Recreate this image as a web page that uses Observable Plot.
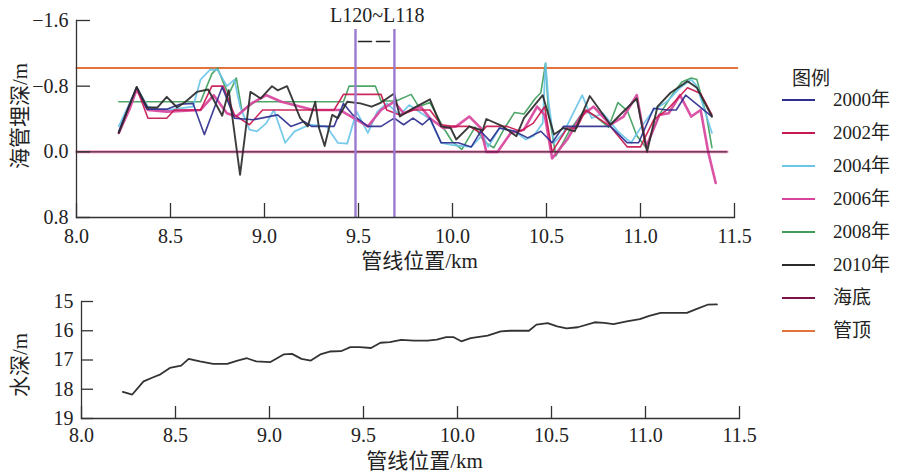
<!DOCTYPE html>
<html><head><meta charset="utf-8">
<script src="https://cdn.jsdelivr.net/npm/d3@7"></script>
<script src="https://cdn.jsdelivr.net/npm/@observablehq/plot@0.6"></script>
<style>
body{margin:0;background:#fff;}
#wrap{position:relative;width:900px;height:476px;overflow:hidden;font-family:"Liberation Serif","Noto Sans CJK SC",serif;}
#top{position:absolute;left:0;top:0;}
#bot{position:absolute;left:0;top:275px;}
.lg{position:absolute;font-size:19px;color:#222;white-space:nowrap;line-height:1;}
.sw{position:absolute;height:0;}
</style></head><body><div id="wrap"><div id="top"></div><div id="bot"></div></div>
<script>
// ---- data ----
const xTicks = [8.0, 8.5, 9.0, 9.5, 10.0, 10.5, 11.0, 11.5];
const yTicksTop = [-1.6, -0.8, 0.0, 0.8];
const yTicksBot = [15, 16, 17, 18, 19];
const legendTitle = "图例";
const legendNames = ["2000年", "2002年", "2004年", "2006年", "2008年", "2010年", "海底", "管顶"];
const legendColors = ["#2e2e8f", "#c8184f", "#6cc5e9", "#d8449c", "#3f9e5c", "#2b2b2b", "#7a1446", "#e2733a"];

const s2000 = [[8.225,-0.25],[8.32,-0.79],[8.375,-0.52],[8.48,-0.52],[8.55,-0.58],[8.62,-0.59],[8.68,-0.21],[8.775,-0.79],[8.84,-0.41],[8.94,-0.39],[9.07,-0.45],[9.14,-0.31],[9.21,-0.37],[9.25,-0.31],[9.37,-0.31],[9.42,-0.59],[9.47,-0.45],[9.55,-0.31],[9.62,-0.31],[9.69,-0.41],[9.74,-0.33],[9.79,-0.41],[9.84,-0.33],[9.88,-0.41],[9.94,-0.11],[10.03,-0.11],[10.1,-0.06],[10.15,-0.25],[10.2,-0.13],[10.25,-0.29],[10.33,-0.25],[10.4,-0.17],[10.47,-0.25],[10.53,-0.11],[10.59,-0.31],[10.84,-0.31],[10.93,-0.11],[10.99,-0.11],[11.07,-0.53],[11.14,-0.51],[11.19,-0.51],[11.24,-0.69],[11.38,-0.43]];
const s2002 = [[8.225,-0.23],[8.27,-0.51],[8.32,-0.78],[8.38,-0.41],[8.48,-0.41],[8.52,-0.51],[8.66,-0.51],[8.72,-0.80],[8.78,-0.80],[8.84,-0.45],[8.92,-0.33],[8.99,-0.51],[9.37,-0.51],[9.42,-0.70],[9.62,-0.70],[9.65,-0.51],[9.72,-0.45],[9.79,-0.51],[9.88,-0.51],[9.94,-0.33],[10.0,-0.31],[10.09,-0.31],[10.15,-0.23],[10.18,-0.31],[10.29,-0.31],[10.36,-0.25],[10.43,-0.35],[10.49,-0.55],[10.53,0.0],[10.61,-0.29],[10.66,-0.29],[10.71,-0.51],[10.84,-0.31],[10.93,-0.06],[11.0,-0.06],[11.07,-0.39],[11.14,-0.51],[11.25,-0.78],[11.32,-0.71],[11.38,-0.45]];
const s2004 = [[8.225,-0.31],[8.32,-0.78],[8.38,-0.55],[8.45,-0.50],[8.55,-0.53],[8.62,-0.55],[8.66,-0.88],[8.71,-1.0],[8.75,-1.0],[8.80,-0.80],[8.84,-0.88],[8.87,-0.55],[8.92,-0.27],[8.96,-0.25],[9.01,-0.35],[9.05,-0.51],[9.11,-0.11],[9.16,-0.25],[9.24,-0.33],[9.33,-0.31],[9.39,-0.11],[9.44,-0.10],[9.49,-0.49],[9.55,-0.23],[9.6,-0.49],[9.65,-0.59],[9.72,-0.45],[9.77,-0.57],[9.88,-0.40],[9.94,-0.11],[10.01,-0.08],[10.1,-0.06],[10.16,-0.21],[10.19,-0.06],[10.25,-0.29],[10.33,-0.25],[10.39,-0.15],[10.43,-0.19],[10.48,-0.35],[10.495,-1.08],[10.51,-0.63],[10.54,-0.11],[10.59,-0.23],[10.69,-0.69],[10.74,-0.41],[10.80,-0.47],[10.88,-0.25],[10.95,-0.11],[11.0,-0.29],[11.07,-0.51],[11.14,-0.61],[11.21,-0.78],[11.27,-0.88],[11.30,-0.80],[11.38,-0.23]];
const s2006 = [[8.225,-0.23],[8.28,-0.51],[8.32,-0.76],[8.38,-0.51],[8.48,-0.49],[8.66,-0.51],[8.73,-0.69],[8.80,-0.47],[8.85,-0.43],[8.93,-0.59],[9.01,-0.69],[9.09,-0.61],[9.26,-0.51],[9.40,-0.51],[9.475,-0.41],[9.55,-0.31],[9.62,-0.51],[9.69,-0.61],[9.74,-0.47],[9.83,-0.55],[9.88,-0.41],[9.95,-0.29],[10.02,-0.31],[10.09,-0.43],[10.15,-0.29],[10.18,0.0],[10.24,0.0],[10.31,-0.23],[10.38,-0.27],[10.45,-0.55],[10.49,-0.45],[10.53,0.08],[10.61,-0.15],[10.68,-0.43],[10.75,-0.55],[10.84,-0.33],[10.91,-0.43],[10.98,-0.69],[11.03,-0.06],[11.10,-0.45],[11.15,-0.47],[11.21,-0.69],[11.27,-0.43],[11.32,-0.51],[11.36,0.0],[11.40,0.38]];
const s2008 = [[8.225,-0.61],[8.66,-0.61],[8.72,-0.95],[8.75,-1.02],[8.78,-0.85],[8.81,-0.70],[8.85,-0.90],[8.88,-0.50],[8.95,-0.61],[9.42,-0.61],[9.45,-0.80],[9.59,-0.80],[9.62,-0.62],[9.70,-0.62],[9.78,-0.70],[9.82,-0.55],[9.88,-0.60],[9.95,-0.30],[10.0,-0.12],[10.05,-0.03],[10.12,-0.30],[10.17,-0.12],[10.22,-0.05],[10.28,-0.30],[10.33,-0.48],[10.38,-0.46],[10.44,-0.65],[10.47,-0.72],[10.495,-1.08],[10.51,-0.50],[10.55,0.05],[10.62,-0.25],[10.70,-0.50],[10.75,-0.45],[10.83,-0.30],[10.88,-0.60],[10.93,-0.50],[10.98,-0.20],[11.03,-0.05],[11.10,-0.45],[11.17,-0.70],[11.22,-0.85],[11.27,-0.90],[11.30,-0.88],[11.35,-0.45],[11.38,-0.05]];
const s2010 = [[8.225,-0.23],[8.32,-0.79],[8.376,-0.54],[8.43,-0.54],[8.48,-0.67],[8.535,-0.54],[8.58,-0.61],[8.64,-0.73],[8.70,-0.76],[8.775,-0.44],[8.81,-0.75],[8.87,0.28],[8.925,-0.73],[8.98,-0.65],[9.04,-0.80],[9.07,-0.75],[9.12,-0.80],[9.19,-0.41],[9.23,-0.31],[9.27,-0.61],[9.29,-0.29],[9.32,-0.07],[9.36,-0.45],[9.39,-0.41],[9.44,-0.61],[9.51,-0.59],[9.57,-0.55],[9.62,-0.60],[9.69,-0.71],[9.72,-0.43],[9.79,-0.53],[9.88,-0.64],[9.94,-0.31],[9.99,-0.29],[10.02,-0.15],[10.09,-0.31],[10.16,-0.26],[10.18,-0.40],[10.26,-0.32],[10.34,-0.19],[10.38,-0.41],[10.48,-0.69],[10.54,-0.21],[10.59,-0.29],[10.65,-0.25],[10.73,-0.68],[10.84,-0.33],[10.90,-0.47],[10.98,-0.65],[11.035,0.0],[11.09,-0.55],[11.16,-0.72],[11.25,-0.86],[11.30,-0.78],[11.38,-0.43]];
const seabed = [[8.0, 0.0], [11.46, 0.0]];
const pipeTop = [[8.0, -1.02], [11.515, -1.02]];
const markerX = [9.484, 9.691];
const markerSpan = [-1.49, 0.8];
const markerLabel = "L120~L118";
const markerLabelPos = [9.60, -1.665];
const markerArrow = [[9.50, -1.345], [9.688, -1.345]];

const waterDepth = [[8.22,18.09],[8.27,18.18],[8.33,17.73],[8.385,17.58],[8.42,17.49],[8.47,17.27],[8.53,17.19],[8.57,16.96],[8.63,17.05],[8.70,17.13],[8.775,17.13],[8.83,17.02],[8.88,16.94],[8.93,17.05],[9.005,17.07],[9.075,16.81],[9.12,16.79],[9.17,16.96],[9.22,17.02],[9.27,16.81],[9.32,16.71],[9.38,16.70],[9.43,16.56],[9.48,16.56],[9.54,16.59],[9.59,16.41],[9.64,16.39],[9.70,16.31],[9.77,16.34],[9.84,16.34],[9.89,16.30],[9.94,16.22],[9.98,16.22],[10.02,16.36],[10.07,16.25],[10.16,16.17],[10.23,16.02],[10.28,16.00],[10.38,16.00],[10.42,15.79],[10.48,15.74],[10.53,15.85],[10.58,15.92],[10.64,15.88],[10.73,15.71],[10.78,15.73],[10.83,15.77],[10.90,15.68],[10.97,15.60],[11.02,15.49],[11.08,15.39],[11.22,15.39],[11.27,15.26],[11.33,15.11],[11.38,15.10]];

const seriesList = [s2000, s2002, s2004, s2006, s2008, s2010];
const drawOrder = [4, 2, 3, 1, 0, 5];
const widths = [1.6, 1.6, 1.8, 2.6, 1.6, 1.9];

const FONT = '"Liberation Serif","Noto Sans CJK SC",serif';
const fmt = d => (d < 0 ? "\u2212" : "") + Math.abs(d).toFixed(1);
const axisColor = "#333";

const lineMarks = drawOrder.map(i => Plot.line(seriesList[i], {x: d => d[0], y: d => d[1], stroke: legendColors[i], strokeWidth: widths[i], strokeOpacity: 0.92, strokeLinejoin: "round"}));

const topPlot = Plot.plot({
  width: 760, height: 275, marginLeft: 76, marginRight: 26, marginTop: 20, marginBottom: 58,
  x: {domain: [8, 11.5]},
  y: {domain: [-1.6, 0.8], reverse: true},
  style: {fontFamily: FONT, fontSize: "20px", color: "#222", background: "transparent", overflow: "visible"},
  marks: [
    Plot.line(pipeTop, {x: d => d[0], y: d => d[1], stroke: legendColors[7], strokeWidth: 2}),
    Plot.line(seabed, {x: d => d[0], y: d => d[1], stroke: "#f7b8d4", strokeWidth: 3.5}),
    ...lineMarks,
    Plot.line(seabed, {x: d => d[0], y: d => d[1], stroke: "#4a1436", strokeWidth: 1.4}),
    Plot.ruleX(markerX, {y1: markerSpan[0], y2: markerSpan[1], stroke: "#9a7ad0", strokeWidth: 2.4}),
    Plot.line(markerArrow, {x: d => d[0], y: d => d[1], stroke: "#222", strokeWidth: 1.6, strokeDasharray: "13,5"}),
    Plot.text([markerLabel], {x: markerLabelPos[0], y: markerLabelPos[1], fontSize: 20, fill: "#222"}),
    Plot.frame({anchor: "left", stroke: axisColor, strokeWidth: 1.3}),
    Plot.frame({anchor: "bottom", stroke: axisColor, strokeWidth: 1.3}),
    Plot.ruleX(xTicks, {insetTop: 197 - 14, stroke: axisColor, strokeWidth: 1.3}),
    Plot.ruleY(yTicksTop, {insetRight: 658 - 14, stroke: axisColor, strokeWidth: 1.3}),
    Plot.axisX({ticks: xTicks, tickSize: 0, tickPadding: 11, tickFormat: d => d.toFixed(1), label: null, fontSize: 20}),
    Plot.axisY({ticks: yTicksTop, tickSize: 0, tickPadding: 8, tickFormat: fmt, label: null, fontSize: 20}),
    Plot.text(["管线位置/km"], {frameAnchor: "bottom", textAnchor: "middle", lineAnchor: "middle", dx: 14, dy: 44, fontSize: 21, fill: "#222"}),
    Plot.text(["海管埋深/m"], {frameAnchor: "left", textAnchor: "middle", lineAnchor: "middle", dx: -56, dy: -3, rotate: -90, fontSize: 21, fill: "#222"})
  ]
});
document.getElementById("top").appendChild(topPlot);

const botPlot = Plot.plot({
  width: 760, height: 201, marginLeft: 81, marginRight: 21, marginTop: 26, marginBottom: 58,
  x: {domain: [8, 11.5]},
  y: {domain: [15, 19], reverse: true},
  style: {fontFamily: FONT, fontSize: "20px", color: "#222", background: "transparent", overflow: "visible"},
  marks: [
    Plot.line(waterDepth, {x: d => d[0], y: d => d[1], stroke: "#333", strokeWidth: 1.8, strokeLinejoin: "round"}),
    Plot.frame({anchor: "left", stroke: axisColor, strokeWidth: 1.3}),
    Plot.frame({anchor: "bottom", stroke: axisColor, strokeWidth: 1.3}),
    Plot.ruleX(xTicks, {insetTop: 117 - 12, stroke: axisColor, strokeWidth: 1.3}),
    Plot.ruleY(yTicksBot, {insetRight: 658 - 12, stroke: axisColor, strokeWidth: 1.3}),
    Plot.axisX({ticks: xTicks, tickSize: 0, tickPadding: 9, tickFormat: d => d.toFixed(1), label: null, fontSize: 20}),
    Plot.axisY({ticks: yTicksBot, tickSize: 0, tickPadding: 8, tickFormat: d => String(d), label: null, fontSize: 20}),
    Plot.text(["管线位置/km"], {frameAnchor: "bottom", textAnchor: "middle", lineAnchor: "middle", dx: 14, dy: 43, fontSize: 21, fill: "#222"}),
    Plot.text(["水深/m"], {frameAnchor: "left", textAnchor: "middle", lineAnchor: "middle", dx: -61, dy: 5, rotate: -90, fontSize: 21, fill: "#222"})
  ]
});
document.getElementById("bot").appendChild(botPlot);

// legend
const wrap = document.getElementById("wrap");
const title = document.createElement("div");
title.className = "lg";
title.textContent = legendTitle;
title.style.left = "792px"; title.style.top = "69px";
wrap.appendChild(title);
legendNames.forEach((name, i) => {
  const cy = 100 + i * 33;
  const sw = document.createElement("div");
  sw.className = "sw";
  sw.style.left = "782px"; sw.style.width = "33px"; sw.style.top = (cy - 1) + "px";
  sw.style.borderTop = "2px solid " + legendColors[i];
  wrap.appendChild(sw);
  const t = document.createElement("div");
  t.className = "lg";
  t.textContent = name;
  t.style.left = "833px"; t.style.top = (cy - 10) + "px";
  wrap.appendChild(t);
});
</script>
</body></html>
